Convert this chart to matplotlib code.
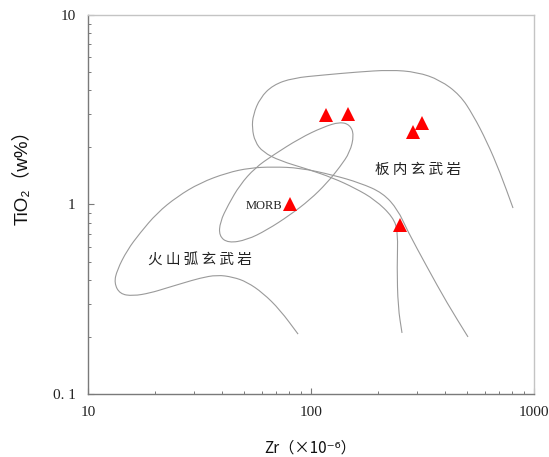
import matplotlib
matplotlib.use("Agg")
import matplotlib.pyplot as plt
import numpy as np
from matplotlib.path import Path
from matplotlib.patches import PathPatch
from matplotlib.ticker import FixedLocator, LogLocator, NullFormatter

# sample points (Zr ppm, TiO2 wt%)
zr_samples = [117, 147, 287, 315, 80.5, 251]
ti_samples = [2.97, 3.00, 2.41, 2.69, 1.00, 0.78]

# field boundaries
arc_zr = [87.5, 72.6, 60.9, 51.6, 44.7, 37.9, 31.8, 26.7, 22.6, 19.0, 15.9, 13.9,
          13.1, 13.5, 15.0, 17.1, 20.4, 25.1, 31.8, 42.0, 53.3, 67.5, 89.3, 125.5,
          165.8, 210.3, 245.5, 269.5, 331.3, 407.3, 505.8]
arc_ti = [0.207, 0.278, 0.341, 0.390, 0.414, 0.425, 0.409, 0.385, 0.363, 0.341, 0.329, 0.337,
          0.385, 0.451, 0.575, 0.707, 0.902, 1.10, 1.30, 1.47, 1.56, 1.58, 1.56, 1.43,
          1.30, 1.15, 0.935, 0.734, 0.468, 0.302, 0.200]

wpb_zr = [255.9, 245.5, 243.0, 245.5, 233.2, 193.6, 157.5, 125.5, 96.0, 72.6, 60.9, 56.1,
          54.4, 55.0, 59.1, 67.5, 83.0, 113.2, 160.8, 226.1, 298.8, 378.9, 465.8, 532.8,
          615.4, 703.8, 805.1]
wpb_ti = [0.210, 0.288, 0.468, 0.716, 0.859, 1.06, 1.22, 1.38, 1.54, 1.70, 1.89, 2.14,
          2.53, 2.97, 3.65, 4.27, 4.65, 4.82, 5.00, 5.13, 5.00, 4.54, 3.78, 2.97,
          2.14, 1.48, 0.958]

morb_zr = [134.9, 149.6, 155.9, 149.6, 134.9, 118.0, 99.0, 80.5, 63.5, 51.6, 42.5, 38.7,
           39.1, 42.5, 48.0, 56.1, 67.5, 89.3, 113.2]
morb_ti = [2.73, 2.63, 2.33, 1.89, 1.58, 1.30, 1.06, 0.880, 0.734, 0.650, 0.626, 0.682,
           0.809, 0.994, 1.27, 1.56, 1.82, 2.24, 2.56]

x_ticks = [10, 100, 1000]
x_ticklabels = ["10", "100", "1000"]
y_ticks = [0.1, 1, 10]
y_ticklabels = ["0. 1", "1", "10"]

CJK = ["Noto Sans CJK SC", "DejaVu Sans"]
LABEL_FONT = ["Liberation Sans", "Noto Sans CJK SC", "DejaVu Sans"]


def smooth_boundary(xs, ys, closed=False):
    """Quadratic B-spline path through the traced vertices (knots at log midpoints)."""
    pts = np.column_stack([xs, ys]).astype(float)

    def mid(a, b):
        return np.sqrt(a * b)

    verts, codes = [], []
    if closed:
        n = len(pts)
        verts.append(mid(pts[-1], pts[0]))
        codes.append(Path.MOVETO)
        for i in range(n):
            verts += [pts[i], mid(pts[i], pts[(i + 1) % n])]
            codes += [Path.CURVE3, Path.CURVE3]
    else:
        verts += [pts[0], mid(pts[0], pts[1])]
        codes += [Path.MOVETO, Path.LINETO]
        for i in range(1, len(pts) - 1):
            verts += [pts[i], mid(pts[i], pts[i + 1])]
            codes += [Path.CURVE3, Path.CURVE3]
        verts.append(pts[-1])
        codes.append(Path.LINETO)
    return Path(np.array(verts), codes)


fig = plt.figure(figsize=(5.49, 4.57), dpi=100, facecolor="white")
ax = fig.add_axes([0.1603, 0.1379, 0.8124, 0.8293])
ax.set_xscale("log")
ax.set_yscale("log")
ax.set_xlim(10, 1000)
ax.set_ylim(0.1, 10)

line_kw = dict(facecolor="none", edgecolor="#9a9a9a", linewidth=0.8)
ax.add_patch(PathPatch(smooth_boundary(arc_zr, arc_ti), **line_kw))
ax.add_patch(PathPatch(smooth_boundary(wpb_zr, wpb_ti), **line_kw))
ax.add_patch(PathPatch(smooth_boundary(morb_zr, morb_ti, closed=True), **line_kw))

ax.plot(zr_samples, ti_samples, linestyle="none", marker="^", markersize=10,
        color="#ff0000", markeredgewidth=0, zorder=5)

# field names
ax.text(302, 1.52, "板 内 玄 武 岩", family=CJK, fontsize=10.5, color="#222222",
        ha="center", va="center")
ax.text(31.8, 0.51, "火 山 弧 玄 武 岩", family=CJK, fontsize=10.5, color="#222222",
        ha="center", va="center")
ax.text(74, 0.985, "MORB", family="Liberation Serif", fontsize=9, color="#222222",
        ha="right", va="center")

# spines
for side in ("left", "bottom"):
    ax.spines[side].set_color("#7a7a7a")
    ax.spines[side].set_linewidth(1.0)
for side in ("top", "right"):
    ax.spines[side].set_color("#c4c4c4")
    ax.spines[side].set_linewidth(1.0)

ax.xaxis.set_major_locator(FixedLocator(x_ticks))
ax.yaxis.set_major_locator(FixedLocator(y_ticks))
ax.xaxis.set_minor_locator(LogLocator(base=10, subs=range(2, 10)))
ax.yaxis.set_minor_locator(LogLocator(base=10, subs=range(2, 10)))
ax.xaxis.set_minor_formatter(NullFormatter())
ax.yaxis.set_minor_formatter(NullFormatter())
ax.set_xticklabels(x_ticklabels)
ax.set_yticklabels(y_ticklabels)
ax.tick_params(which="both", direction="in", color="#7a7a7a", top=False, right=False)
ax.tick_params(which="major", length=4.5, width=0.8, pad=9, labelsize=11, labelcolor="#222222")
ax.tick_params(which="minor", length=2.5, width=0.7)
for lab in ax.get_xticklabels() + ax.get_yticklabels():
    lab.set_family("Liberation Serif")

fig.text(0.565, 0.020, "Zr（×10⁻⁶）", family=["Noto Sans CJK SC", "DejaVu Sans"],
         fontsize=11, ha="center", va="center", color="#111111")
fig.text(0.042, 0.622, "TiO₂（w%）", family=LABEL_FONT, fontsize=13.5, rotation=90,
         ha="center", va="center", color="#111111")

fig.savefig("out.png", dpi=100, facecolor="white")
